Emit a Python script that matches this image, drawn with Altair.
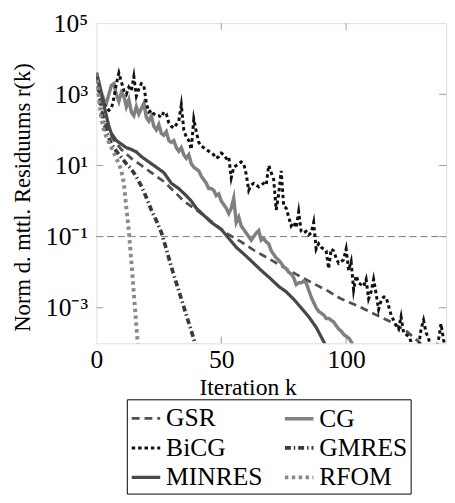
import altair as alt
import pandas as pd

# ---- data (iteration k, exponent e of residual norm r(k) = 10^e) ----
# legend order is column-major: column 1 = GSR, BiCG, MINRES ; column 2 = CG, GMRES, RFOM
methods = ["GSR", "BiCG", "MINRES", "CG", "GMRES", "RFOM"]

gsr_k = [0, 2, 4, 7, 10, 14, 18, 22, 27, 31, 35, 40, 46, 52, 58, 63, 68, 73, 79, 85, 92, 98, 105, 112, 118, 124, 129, 131]
gsr_e = [3.6, 2.6, 2.1, 1.7, 1.45, 1.2, 1.0, 0.8, 0.55, 0.28, 0.0, -0.25, -0.57, -0.9, -1.15, -1.38, -1.58,
         -1.78, -2.02, -2.25, -2.5, -2.75, -2.96, -3.2, -3.4, -3.65, -3.95, -4.1]

cg_k = list(range(0, 104))
cg_e = [3.6, 3.35, 3.05, 2.85, 2.75, 3.0, 3.25, 3.3, 3.0, 2.8,
        3.05, 2.95, 2.65, 2.85, 2.5, 2.4, 2.65, 2.45, 2.6, 2.75,
        2.35, 2.25, 2.4, 2.1, 2.0, 2.15, 1.9, 1.85, 1.95, 1.7,
        1.65, 1.7, 1.5, 1.4, 1.5, 1.3, 1.2, 1.3, 1.05, 0.95,
        0.9, 0.85, 0.7, 0.6, 0.5, 0.35, 0.35, 0.3, 0.15, 0.2,
        0.0, -0.1, -0.2, -0.35, -0.2, 0.08, -0.6, -0.45, -0.7, -0.8,
        -0.9, -1.0, -1.1, -1.0, -0.9, -0.83, -1.1, -1.05, -1.15, -1.2,
        -1.4, -1.5, -1.6, -1.66, -1.75, -1.85, -1.9, -2.0, -2.05, -2.15,
        -2.35, -2.3, -2.3, -2.25, -2.3, -2.5, -2.7, -2.85, -3.0, -3.1,
        -3.15, -3.2, -3.3, -3.3, -3.35, -3.4, -3.5, -3.6, -3.65, -3.75,
        -3.8, -3.85, -3.95, -4.1]

bicg_k = list(range(0, 141))
bicg_e = [3.6, 3.25, 2.95, 2.75, 2.6, 2.55, 2.6, 2.9, 3.3, 3.6,
          3.35, 3.1, 3.0, 3.2, 3.1, 3.5, 2.95, 3.15, 3.3, 3.25,
          2.75, 2.5, 2.55, 2.45, 2.4, 2.4, 2.35, 2.5, 2.45, 2.2,
          2.1, 2.05, 2.15, 2.25, 2.7, 2.0, 1.8, 1.7, 1.45, 2.3,
          1.95, 1.65, 1.55, 1.5, 1.45, 1.4, 1.35, 1.3, 1.2, 1.25,
          1.35, 1.3, 1.2, 1.25, 0.65, 0.95, 1.0, 1.05, 1.1, 1.05,
          0.75, 0.3, 0.45, 0.5, 0.45, 0.4, 0.45, 0.5, 0.45, 1.0,
          0.8, 0.6, -0.25, 0.2, 0.85, -0.15, -0.2, -0.45, -0.7, -0.6,
          -0.75, -0.3, -0.85, -0.9, -0.85, -0.95, -0.9, -0.6, -1.35, -1.2,
          -1.3, -1.35, -1.4, -1.9, -1.35, -1.4, -1.6, -1.75, -1.7, -1.65,
          -1.35, -1.95, -1.7, -2.5, -2.1, -2.3, -2.35, -2.4, -2.2, -2.75,
          -2.55, -2.2, -2.6, -3.05, -2.8, -2.7, -2.7, -2.95, -3.2, -3.35,
          -3.5, -3.6, -3.25, -3.7, -3.75, -3.8, -3.95, -4.2, -4.3, -4.1,
          -3.6, -3.35, -3.7, -3.85, -4.2, -4.3, -4.2, -3.9, -3.45, -3.9,
          -4.2]

gmres_k = [0, 2, 4, 6, 8, 10, 12, 14, 16, 18, 20, 22, 24, 26, 28, 30, 32, 34, 36, 38, 40]
gmres_e = [3.6, 2.5, 1.95, 1.6, 1.4, 1.22, 1.05, 0.9, 0.68, 0.42, 0.1, -0.25, -0.55, -0.88, -1.35,
           -1.85, -2.3, -2.75, -3.2, -3.65, -4.1]

minres_k = [0, 1, 2, 3, 4, 5, 6, 7, 8, 10, 12, 14, 16, 18, 20, 22, 24, 27, 30, 33, 36, 38, 40, 43, 46,
            50, 53, 56, 60, 63, 66, 70, 73, 76, 79, 82, 85, 88, 91, 92]
minres_e = [3.6, 3.3, 3.0, 2.7, 2.4, 2.1, 1.9, 1.8, 1.7, 1.6, 1.5, 1.45, 1.38, 1.25, 1.15, 1.05, 0.95,
            0.8, 0.5, 0.35, 0.15, 0.0, -0.2, -0.4, -0.6, -0.8, -1.05, -1.3, -1.55, -1.75, -1.95, -2.2,
            -2.4, -2.55, -2.76, -3.0, -3.25, -3.55, -3.95, -4.1]

rfom_k = [0, 1, 2, 3, 4, 5, 6, 7, 8, 9, 10, 11, 12, 13, 14, 15, 16, 17]
rfom_e = [3.6, 2.9, 2.3, 2.0, 1.8, 1.65, 1.5, 1.35, 1.2, 1.05, 0.85, 0.5, -0.2, -0.85, -1.7, -2.6, -3.5, -4.4]

x_ticks = [50, 100]
y_ticks = [-3, -1, 1, 3]
threshold = [-1]

series = {"GSR": (gsr_k, gsr_e), "CG": (cg_k, cg_e), "BiCG": (bicg_k, bicg_e),
          "GMRES": (gmres_k, gmres_e), "MINRES": (minres_k, minres_e), "RFOM": (rfom_k, rfom_e)}
rows = []
for m, (ks, es) in series.items():
    for i, (k, e) in enumerate(zip(ks, es)):
        rows.append({"method": m, "k": k, "e": e, "order": i})
df = pd.DataFrame(rows)

W, H = 356, 326
FONT = "Liberation Serif"

xscale = alt.Scale(domain=[0, 140], nice=False, zero=False)
yscale = alt.Scale(domain=[-4, 5], nice=False, zero=False)

style = {
    "GSR":    ("#505050", [8, 5], 2.8),
    "BiCG":   ("#111111", [3.5, 3], 4.0),
    "MINRES": ("#484848", [1, 0], 3.2),
    "CG":     ("#808080", [1, 0], 3.4),
    "GMRES":  ("#3a3a3a", [6, 3, 1.5, 3], 3.2),
    "RFOM":   ("#8a8a8a", [3.5, 3.5], 3.8),
}
colors = [style[m][0] for m in methods]
dashes = [style[m][1] for m in methods]
widths = [style[m][2] for m in methods]

y_label_expr = ("datum.value == 5 ? '10\u2075' : datum.value == 3 ? '10\u00b3' : "
                "datum.value == 1 ? '10\u00b9' : datum.value == -1 ? '10\u207b\u00b9' : '10\u207b\u00b3'")

legend = alt.Legend(orient="none", legendX=31, legendY=383, columns=2, title=None,
                    symbolType="stroke", symbolSize=841, labelFont=FONT, labelFontSize=26,
                    labelColor="black", strokeColor="black", fillColor="white", padding=3,
                    rowPadding=0, columnPadding=14, labelOffset=4, labelLimit=0, gridAlign="all")

lines = alt.Chart(df).mark_line(clip=True, strokeJoin="miter", strokeMiterLimit=8).encode(
    x=alt.X("k:Q", scale=xscale,
            axis=alt.Axis(values=[0, 50, 100], ticks=False, domain=False, grid=False,
                          labelFont=FONT, labelFontSize=26, labelColor="black", labelPadding=4,
                          labelFlush=False, title="Iteration k", titleFont=FONT, titleFontSize=24,
                          titleFontWeight="normal", titleColor="black", titleX=154, titleY=52,
                          titleBaseline="alphabetic")),
    y=alt.Y("e:Q", scale=yscale,
            axis=alt.Axis(values=[-3, -1, 1, 3, 5], labelExpr=y_label_expr, ticks=False, domain=False,
                          grid=False, labelFont=FONT, labelFontSize=26, labelColor="black",
                          labelPadding=9, labelFlush=False, title="Norm d. mttl. Residuums r(k)",
                          titleFont=FONT, titleFontSize=23, titleFontWeight="normal",
                          titleColor="black", titleX=-68, titleY=177, titleAngle=270,
                          titleBaseline="alphabetic")),
    color=alt.Color("method:N", scale=alt.Scale(domain=methods, range=colors), legend=legend),
    strokeDash=alt.StrokeDash("method:N", scale=alt.Scale(domain=methods, range=dashes), legend=legend),
    strokeWidth=alt.StrokeWidth("method:N", scale=alt.Scale(domain=methods, range=widths), legend=legend),
    order="order:Q",
    detail="method:N",
)

thr = alt.Chart(pd.DataFrame({"e": threshold})).mark_rule(
    color="#777777", strokeWidth=1, strokeDash=[7, 4]).encode(
    y=alt.Y("e:Q", scale=yscale), x=alt.value(0), x2=alt.value(W))

xt = pd.DataFrame({"k": x_ticks})
yt = pd.DataFrame({"e": y_ticks})
tick_color = "#999999"
xt_bot = alt.Chart(xt).mark_rule(color=tick_color, strokeWidth=1).encode(
    x=alt.X("k:Q", scale=xscale), y=alt.value(H), y2=alt.value(H - 7))
xt_top = alt.Chart(xt).mark_rule(color=tick_color, strokeWidth=1).encode(
    x=alt.X("k:Q", scale=xscale), y=alt.value(0), y2=alt.value(7))
yt_left = alt.Chart(yt).mark_rule(color=tick_color, strokeWidth=1).encode(
    y=alt.Y("e:Q", scale=yscale), x=alt.value(0), x2=alt.value(7))
yt_right = alt.Chart(yt).mark_rule(color=tick_color, strokeWidth=1).encode(
    y=alt.Y("e:Q", scale=yscale), x=alt.value(W - 7), x2=alt.value(W))

chart = alt.layer(thr, xt_bot, xt_top, yt_left, yt_right, lines).properties(
    width=W, height=H,
    padding={"left": 90, "top": 11, "right": 1, "bottom": 150},
    autosize=alt.AutoSizeParams(type="none"),
).configure_view(stroke="#555555", strokeWidth=1.3).configure(font=FONT)

chart.save("out.html", embed_options={"renderer": "svg", "actions": False})
